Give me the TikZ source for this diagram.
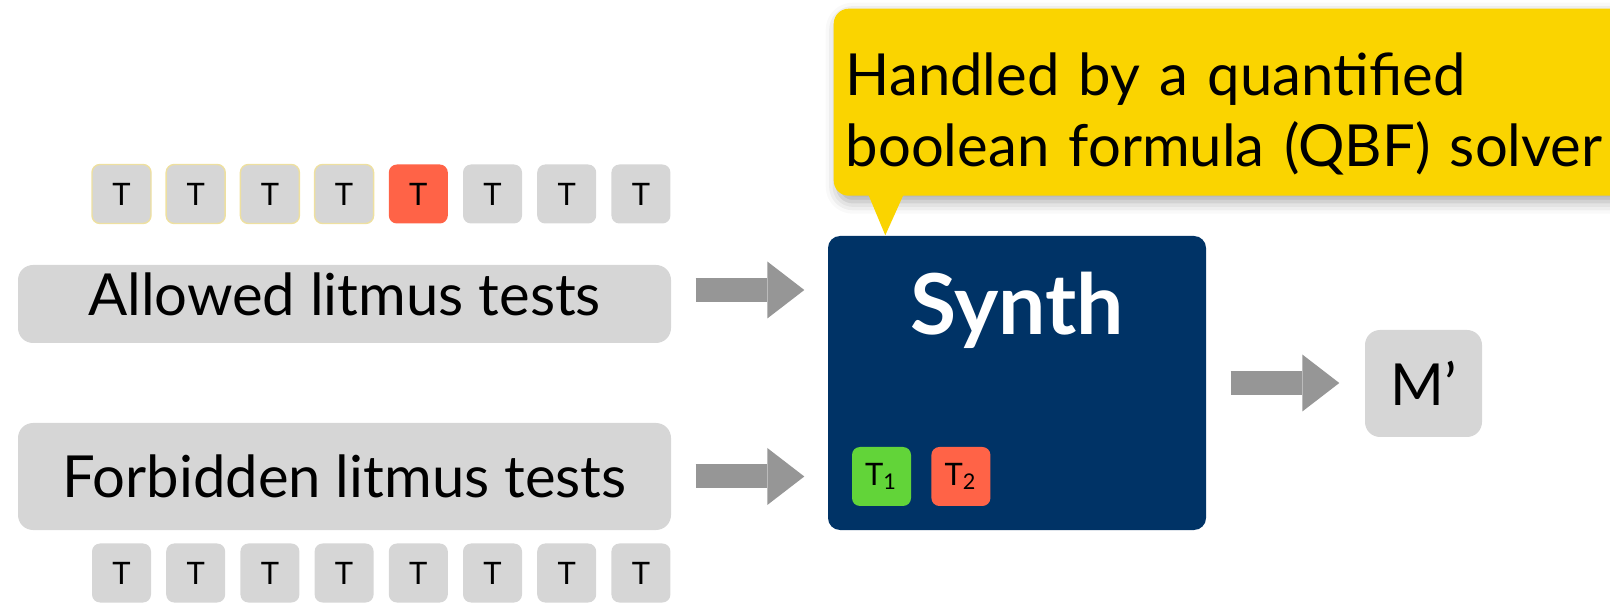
\documentclass[tikz,border=0pt]{standalone}
\usepackage{fontspec}
\setmainfont{Lato}
\usetikzlibrary{arrows.meta,positioning,calc,shadows.blur}
\definecolor{cellgray}{RGB}{214,214,214}
\definecolor{tomato}{RGB}{255,99,71}
\definecolor{lime}{RGB}{98,212,57}
\definecolor{navyblue}{RGB}{0,51,102}
\definecolor{gold}{RGB}{250,212,0}
\definecolor{pale}{RGB}{238,224,160}
\definecolor{argray}{RGB}{150,150,150}
\tikzset{
  gry/.style={fill=cellgray,rounded corners=1.5mm,inner sep=0pt,
              font=\fontsize{16.5}{18}\selectfont},
  cell/.style={fill=cellgray,rounded corners=.8mm,minimum width=5.9mm,
               minimum height=5.9mm,inner sep=0pt,font=\fontsize{8.8}{10}\selectfont},
  edged/.style={draw=pale,line width=.4pt},
  hot/.style={fill=tomato},
  ok/.style={fill=lime},
  nvy/.style={fill=navyblue,rounded corners=1.2mm},
  bubble/.style={fill=gold,rounded corners=1.5mm,align=left,inner xsep=1.2mm,
                 font=\fontsize{16.5}{20.1}\selectfont,
                 blur shadow={shadow xshift=.4mm,shadow yshift=-.6mm,
                              shadow blur radius=1.2mm,shadow opacity=35}},
  ar/.style={-{Triangle[length=3.7mm,width=5.7mm,line width=0pt]},
             line width=2.4mm,draw=argray},
}
\begin{document}
\begin{tikzpicture}[node distance=1.9mm]
  \useasboundingbox (0,0) rectangle (16.10,6.03);
  \clip (0,0) rectangle (16.10,6.03);
  \node[gry,minimum width=6.53cm,minimum height=.78cm,text depth=.2cm] (A) at (3.445,2.99) {Allowed litmus tests};
  \node[gry,minimum width=6.53cm,minimum height=1.07cm] (F) at (3.445,1.265) {Forbidden litmus tests};
  \foreach \i/\st in {0/edged,1/edged,2/edged,3/edged,4/hot,5/,6/,7/}
    \node[cell,\st] (t\i) at (1.215+\i*.742,4.09) {T};
  \foreach \i in {0,...,7}
    \node[cell] (b\i) at (1.215+\i*.742,.30) {T};
  \node[nvy,minimum width=3.78cm,minimum height=2.94cm] (S) at (10.17,2.20) {};
  \node[anchor=base,text=white,font=\fontsize{23.9}{26}\selectfont\bfseries] (SL) at (10.17,2.68) {Synth};
  \node[cell,ok] (T1) at (8.815,1.265) {T\textsubscript{1}};
  \node[cell,hot] (T2) [right=of T1] {T\textsubscript{2}};
  \node[gry,minimum width=1.17cm,minimum height=1.07cm] (M) at (14.235,2.195) {M’};
  \node[bubble,anchor=north west,minimum width=7.95cm,minimum height=1.87cm,
        text width=7.71cm] (Q) at (8.33,5.95) {\rule{0pt}{.66cm}Handled by a quantified\\boolean formula (QBF) solver};
  \fill[gold] ($(Q.south west)+(.34,.05)$) -- ($(Q.south west)+(.72,.05)$) -- ($(S.north west)+(.58,0)$) -- cycle;
  \draw[ar,shorten <=2.4mm,shorten >=2.3mm] ([yshift=1.4mm]A.east) -- ([yshift=1.4mm]A.east -| S.west);
  \draw[ar,shorten <=2.4mm,shorten >=2.3mm] (F.east) -- (F.east -| S.west);
  \draw[ar,shorten <=2.4mm,shorten >=2.5mm] (S.east) -- (S.east -| M.west);
\end{tikzpicture}
\end{document}
